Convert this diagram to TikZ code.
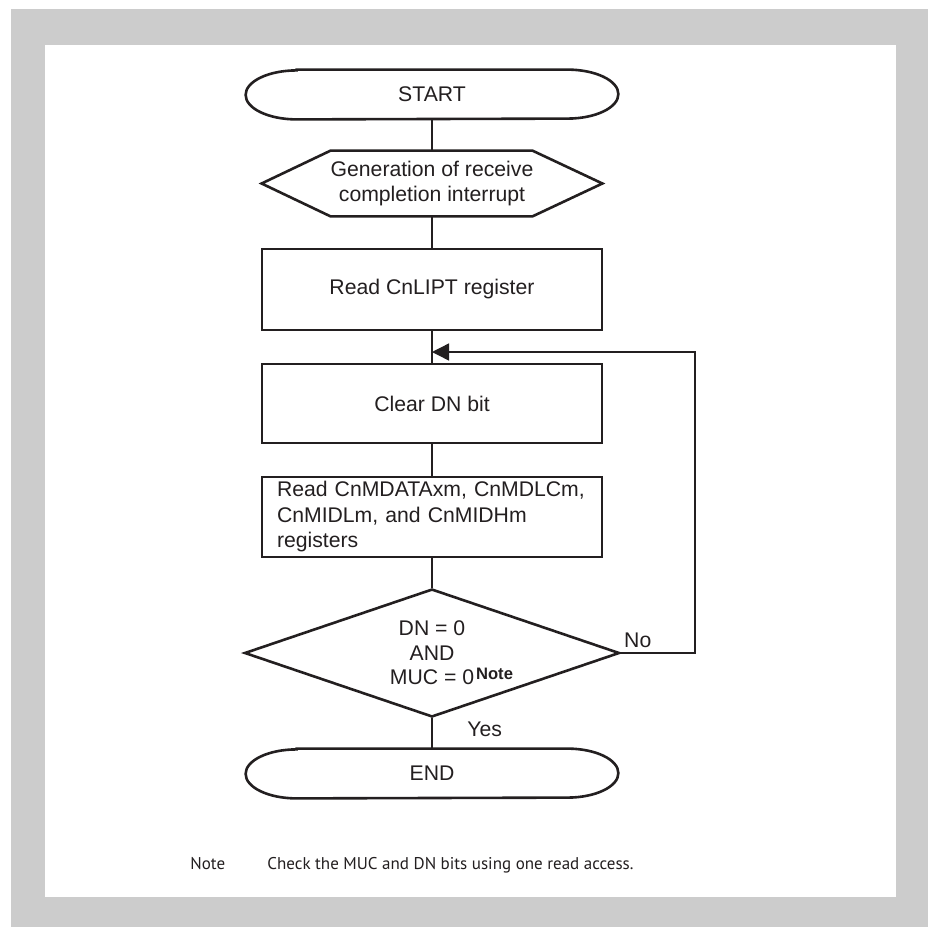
\documentclass[tikz,border=0pt]{standalone}
\usepackage{fontspec}
\setmainfont{Liberation Sans}
\newfontfamily\notefont{PT Sans}
\usetikzlibrary{positioning,shapes.geometric,arrows.meta}
\definecolor{ink}{RGB}{35,31,32}
\definecolor{framegray}{RGB}{204,204,204}

\begin{document}
\begin{tikzpicture}[x=0.5pt, y=-0.5pt,
  every node/.style={font=\fontsize{10.6}{12.75}\selectfont, text=ink},
  box/.style={draw=ink, line width=1.3pt, minimum width=170pt, inner sep=0pt},
  term/.style={minimum width=186pt, minimum height=24.5pt, inner sep=0pt},
  line/.style={draw=ink, line width=0.7pt},
  lbl/.style={anchor=base west, inner sep=0pt},
  notestyle/.style={lbl, font=\notefont\fontsize{8.5}{10}\selectfont}]
  \useasboundingbox (0,0) rectangle (928,927);
  % frame
  \fill[framegray] (11,9) rectangle (928,927);
  \fill[white] (45,45) rectangle (896,897);
  % flow steps
  \node[term] (start) at (432,94.5) {START};
  \node[minimum width=170pt, minimum height=32.5pt, inner sep=0pt, align=center] (irq) at (432,183.5) {Generation of receive\\completion interrupt};
  \node[box, minimum height=40.5pt] (lipt) at (432,289.5) {Read CnLIPT register};
  \node[box, minimum height=39.5pt] (clear) at (432,403.5) {Clear DN bit};
  \node[box, minimum height=40pt, text width=155pt, inner xsep=7.5pt, align=left] (regs) at (432,517) {Read CnMDATAxm, CnMDLCm,\\CnMIDLm, and CnMIDHm\\registers};
  \node[diamond, draw=ink, line width=1.3pt, aspect=2.93, minimum width=187.5pt, minimum height=64pt, inner sep=0pt, align=center,
        font=\fontsize{10.6}{12.3}\selectfont] (check) at (432,653)
        {DN = 0\\AND\\MUC = 0\rlap{\hspace{1pt}\raisebox{2.5pt}{\fontsize{8.3}{9}\selectfont\bfseries Note}}};
  \node[term] (end) at (432,773.5) {END};
  % outlines of terminals and the hexagon
  \foreach \t in {start,end}{
    \draw[ink, line width=1.3pt] ([xshift=25.5pt]\t.north west) -- ([xshift=-25.5pt]\t.north east)
      arc[start angle=90, end angle=-90, x radius=25.5pt, y radius=12.25pt]
      -- ([xshift=25.5pt]\t.south west)
      arc[start angle=270, end angle=90, x radius=25.5pt, y radius=12.25pt] -- cycle;
  }
  \draw[ink, line width=1.3pt] (irq.west) -- ([xshift=34.5pt]irq.north west) -- ([xshift=-35pt]irq.north east)
    -- (irq.east) -- ([xshift=-35pt]irq.south east) -- ([xshift=34.5pt]irq.south west) -- cycle;
  % connectors
  \draw[line] (start) -- (irq);
  \draw[line] (irq) -- (lipt);
  \draw[line] (lipt) -- (clear);
  \draw[line] (clear) -- (regs);
  \draw[line] (regs) -- (check);
  \draw[line] (check) -- (end);
  \coordinate (join) at (432,352);
  \coordinate (loop) at (695,352);
  \draw[line, -{Triangle[length=8.5pt, width=8.5pt]}] (check.east) -| (loop) -- (join);
  \node[lbl] (no) at ([xshift=1.5pt, yshift=3pt]check.east) {No};
  \node[lbl] (yes) at ([xshift=17.5pt, yshift=-9pt]check.south) {Yes};
  % note
  \node[notestyle] (notetag) at (190,869) {Note};
  \node[notestyle] (notetext) at (267,869) {Check the MUC and DN bits using one read access.};
\end{tikzpicture}
\end{document}
